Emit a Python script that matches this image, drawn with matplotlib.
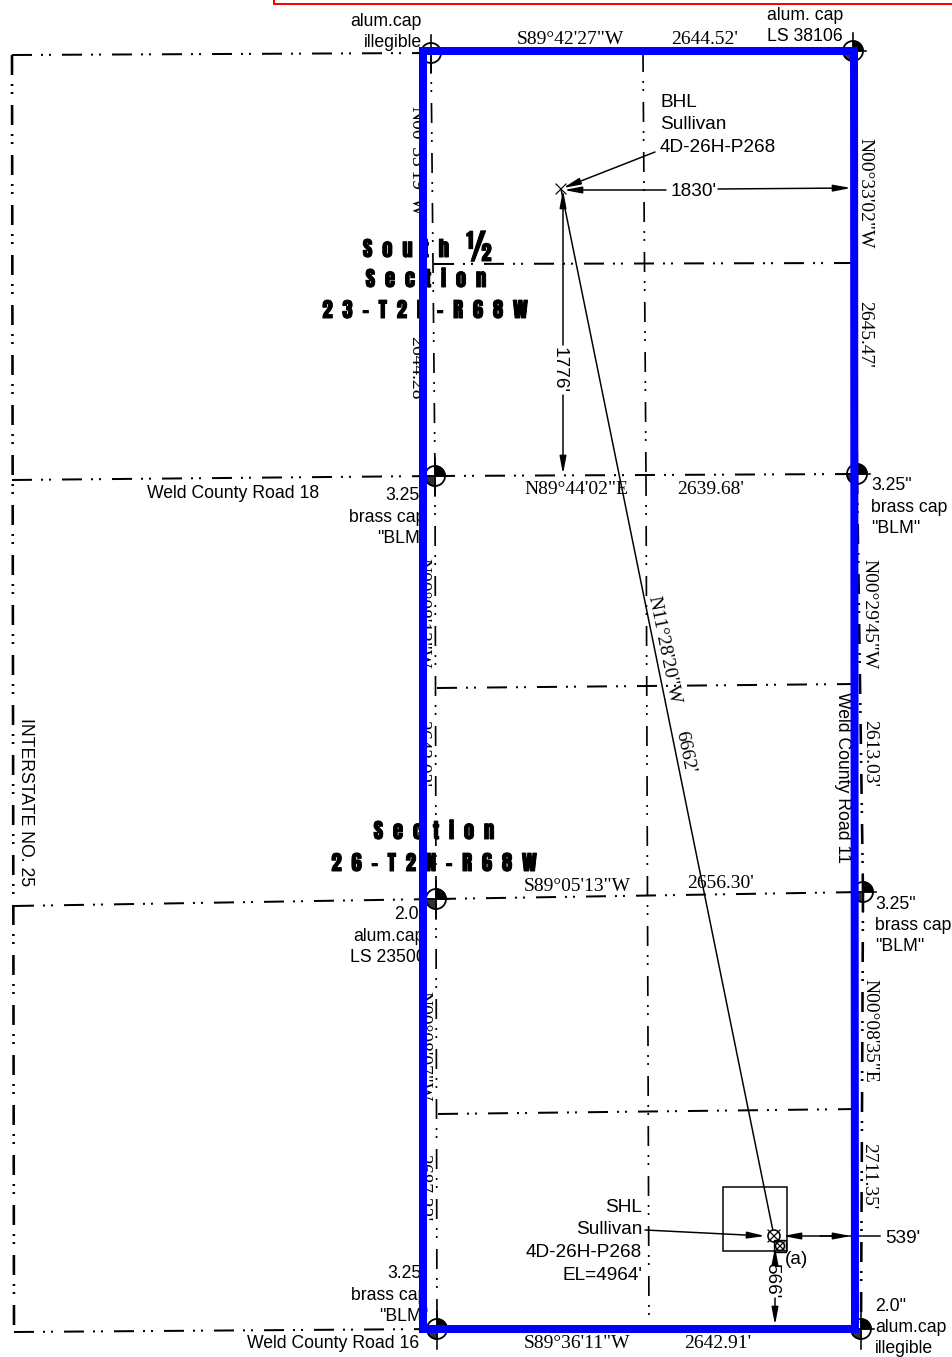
import matplotlib
matplotlib.use('Agg')
import matplotlib.pyplot as plt
import matplotlib.patheffects as pe
from matplotlib.patches import Circle, Wedge, Rectangle

# everything below is in picture pixels, y going down
W, H = 952, 1357

# section lines (dash dot dot), the pattern restarts at every node
horizontal_lines = [
    ([12, 431, 853], [55, 53, 51]),
    ([12, 435, 857], [480, 476, 474]),
    ([14, 436, 863], [906, 899, 892]),
    ([14, 437, 861], [1332, 1329, 1329]),
    ([434, 855], [264, 263]),
    ([437, 855], [688, 684]),
    ([438, 858], [1114, 1109]),
]
inner_lines = [
    ([431, 435, 436, 437], [53, 476, 899, 1329]),
    ([643, 646, 649], [52, 476, 1329]),
]
outer_lines = [
    ([12, 14], [55, 1332]),
    ([853, 857, 863, 861], [51, 474, 892, 1329]),
]
boundary_x = [423, 854, 855, 423, 423]
boundary_y = [51, 51, 1329, 1329, 51]
red_x = [274, 274, 952]
red_y = [0, 4, 4]

# monuments
corner_x = [431, 435, 436, 437, 853, 857, 863, 861]
corner_y = [53, 476, 899, 1329, 51, 474, 892, 1329]
corner_filled = [False, True, True, True, True, True, True, True]

bhl = (561, 189)
shl = (774, 1236)
shl2 = (780, 1246)
box_x, box_y, box_w, box_h = 722.5, 1187, 64.5, 64

plain_segments = [
    ((561, 189), (774, 1236)),
    ((787, 1236), (880, 1236)),
]
# start, tip
arrows = [
    ((655, 152), (563, 188)),
    ((666, 190), (564, 190)),
    ((718, 189), (851, 188)),
    ((563, 345), (563, 190)),
    ((563, 395), (563, 474)),
    ((645, 1230), (765, 1236)),
    ((800, 1236), (783, 1236)),
    ((820, 1236), (851, 1236)),
    ((775, 1262), (775, 1247)),
    ((775, 1298), (775, 1325)),
]

# text, x, y, ha
sans_labels = [
    ('alum.cap', 422, 20, 'right'), ('illegible', 422, 41, 'right'),
    ('alum. cap', 767, 14, 'left'), ('LS 38106', 767, 35, 'left'),
    ('Weld County Road 18', 147, 492, 'left'),
    ('3.25"', 385, 494, 'left'), ('brass cap', 349, 516, 'left'), ('"BLM"', 377, 537, 'left'),
    ('3.25"', 871, 484, 'left'), ('brass cap', 871, 506, 'left'), ('"BLM"', 871, 527, 'left'),
    ('3.25"', 875, 903, 'left'), ('brass cap', 875, 924, 'left'), ('"BLM"', 875, 945, 'left'),
    ('2.0"', 394, 913, 'left'), ('alum.cap', 353, 935, 'left'), ('LS 23500', 350, 956, 'left'),
    ('3.25"', 387, 1272, 'left'), ('brass cap', 351, 1294, 'left'), ('"BLM"', 379, 1315, 'left'),
    ('2.0"', 875, 1305, 'left'), ('alum.cap', 875, 1326, 'left'), ('illegible', 875, 1347, 'left'),
    ('Weld County Road 16', 247, 1342, 'left'),
]
callout_labels = [
    ('BHL', 660, 101, 'left'), ('Sullivan', 660, 123, 'left'), ('4D-26H-P268', 660, 146, 'left'),
    ("1830'", 693, 190, 'center'),
    ('SHL', 642, 1206, 'right'), ('Sullivan', 642, 1228, 'right'),
    ('4D-26H-P268', 642, 1251, 'right'), ("EL=4964'", 642, 1274, 'right'),
    ('(a)', 785, 1258, 'left'), ("539'", 885, 1237, 'left'),
]
sans_rotated = [
    ('Weld County Road 11', 843, 778, -90, 12.7), ('INTERSTATE NO. 25', 25, 802, -90, 12.7),
    ("1776'", 559, 370, -90, 13.7), ("566'", 772, 1281, -90, 13.7),
]
serif_labels = [
    ('S89°42\'27"W', 570, 38), ("2644.52'", 705, 38),
    ('N89°44\'02"E', 576, 488), ("2639.68'", 711, 488),
    ('S89°05\'13"W', 577, 885), ("2656.30'", 720, 882),
    ('S89°36\'11"W', 577, 1342), ("2642.91'", 718, 1342),
]
serif_rotated = [
    ('N00°33\'19"W', 416, 161, -90), ("2644.28'", 416, 370, -90),
    ('N00°08\'13"W', 422, 613, -90), ("2643.02'", 422, 754, -90),
    ('N00°08\'07"W', 423, 1046, -90), ("2687.22'", 423, 1188, -90),
    ('N00°33\'02"W', 865, 193, -90), ("2645.47'", 865, 334, -90),
    ('N00°29\'45"W', 869, 614, -90), ("2613.03'", 870, 753, -90),
    ('N00°08\'35"E', 870, 1031, -90), ("2711.35'", 869, 1176, -90),
    ('N11°28\'20"W', 664, 650, -78.5), ("6662'", 685, 752, -78.5),
]
title_labels = [
    ('S  o  u  t  h', 406, 249, 15), ('½', 479, 248, 25), ('S  e  c  t  i  o  n', 426, 279, 15),
    ('2  3  -  T  2  N  -  R  6  8  W', 425, 310, 15),
    ('S  e  c  t  i  o  n', 434, 831, 15), ('2  6  -  T  2  N  -  R  6  8  W', 434, 863, 15),
]

SANS = ['Liberation Sans', 'DejaVu Sans']
SERIF = ['Liberation Serif', 'DejaVu Serif']
HEAVY = ['Anton', 'Liberation Sans', 'DejaVu Sans']
px = 0.72  # points per pixel at dpi 100

plt.rcParams['lines.scale_dashes'] = False
fig = plt.figure(figsize=(W / 100, H / 100), dpi=100)
ax = fig.add_axes([0, 0, 1, 1])
ax.set_xlim(0, W)
ax.set_ylim(H, 0)
ax.axis('off')

ax.plot(red_x, red_y, color='#ff0000', lw=2 * px, zorder=1, solid_joinstyle='miter')

dash = (0, (20 * px, 9 * px, 2 * px, 6 * px, 2 * px, 11 * px))
for lines, width in [(horizontal_lines, 2), (inner_lines, 1.7), (outer_lines, 2.6)]:
    for xs, ys in lines:
        for i in range(len(xs) - 1):
            ax.plot(xs[i:i + 2], ys[i:i + 2], color='black', lw=width * px, linestyle=dash,
                    dash_capstyle='butt', zorder=2)

# y axis is inverted, so 270-360 is the upper right quarter on the page
for x, y, filled in zip(corner_x, corner_y, corner_filled):
    if filled:
        ax.add_patch(Wedge((x, y), 10, 270, 360, color='black', zorder=3))
        ax.add_patch(Wedge((x, y), 10, 90, 180, color='#333333', zorder=3))
    ax.add_patch(Circle((x, y), 10, fc='none', ec='black', lw=1.8 * px, zorder=3))
    ax.plot([x - 13, x + 13], [y, y], color='black', lw=1.6 * px, zorder=3)
    ax.plot([x, x], [y - 18, y + 20], color='black', lw=1.6 * px, zorder=3)

ax.add_patch(Rectangle((box_x, box_y), box_w, box_h, fc='none', ec='black', lw=1.5 * px, zorder=3))
ax.plot([bhl[0] - 5, bhl[0] + 5], [bhl[1] - 5, bhl[1] + 5], color='black', lw=1.2 * px, zorder=3)
ax.plot([bhl[0] - 5, bhl[0] + 5], [bhl[1] + 5, bhl[1] - 5], color='black', lw=1.2 * px, zorder=3)
for (cx, cy), r in [(shl, 6), (shl2, 4.5)]:
    ax.add_patch(Circle((cx, cy), r, fc='white', ec='black', lw=1.6 * px, zorder=4))
    ax.plot([cx - r, cx + r], [cy - r, cy + r], color='black', lw=1.2 * px, zorder=4)
    ax.plot([cx - r, cx + r], [cy + r, cy - r], color='black', lw=1.2 * px, zorder=4)
ax.add_patch(Rectangle((shl2[0] - 6, shl2[1] - 6), 12, 12, fc='none', ec='black', lw=1.4 * px, zorder=4))

for a, b in plain_segments:
    ax.plot([a[0], b[0]], [a[1], b[1]], color='black', lw=1.5 * px, zorder=3)
for a, b in arrows:
    ax.annotate('', xy=b, xytext=a, zorder=4,
                arrowprops=dict(arrowstyle='-|>,head_length=1.05,head_width=0.2', mutation_scale=10,
                                color='black', lw=1.5 * px, shrinkA=0, shrinkB=0))

for s, x, y, ha in sans_labels:
    ax.text(x, y + 1.5, s, ha=ha, va='center', fontsize=12.7, family=SANS, color='black', zorder=5)
for s, x, y, ha in callout_labels:
    ax.text(x, y + 1.5, s, ha=ha, va='center', fontsize=13.7, family=SANS, color='black', zorder=5)
for s, x, y, rot, size in sans_rotated:
    ax.text(x, y, s, ha='center', va='center', rotation=rot, rotation_mode='anchor',
            fontsize=size, family=SANS, color='black', zorder=5)
for s, x, y in serif_labels:
    ax.text(x, y + 1.5, s, ha='center', va='center', fontsize=14, family=SERIF, color='black', zorder=5)
for s, x, y, rot in serif_rotated:
    ax.text(x, y, s, ha='center', va='center', rotation=rot, rotation_mode='anchor',
            fontsize=14, family=SERIF, color='black', zorder=5)
for s, x, y, size in title_labels:
    ax.text(x, y, s, ha='center', va='center', fontsize=size, family=HEAVY, color='black', zorder=5,
            path_effects=[pe.withStroke(linewidth=0.7, foreground='black')])

# blue boundary sits on top of the labels
ax.plot(boundary_x, boundary_y, color='#0000ff', lw=8 * px, zorder=6, solid_joinstyle='miter')

fig.savefig('out.png', dpi=100)
